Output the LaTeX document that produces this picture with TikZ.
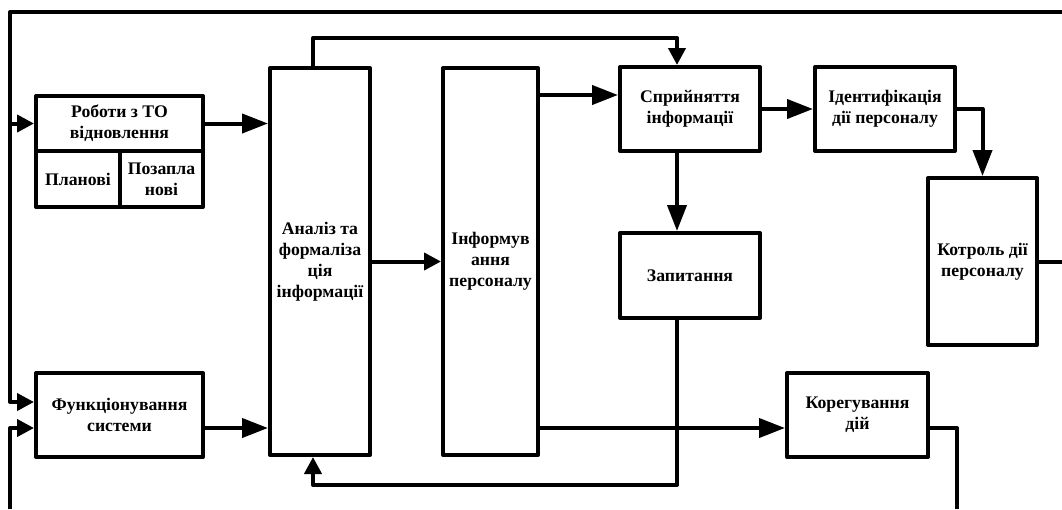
\documentclass[tikz,border=0pt]{standalone}
\usepackage{fontspec}
\setmainfont{Liberation Serif}
\usetikzlibrary{arrows.meta}
\begin{document}
\begin{tikzpicture}[x=1pt,y=-1pt,line width=4pt,line join=round,
  box/.style={draw,rectangle,inner sep=0pt,align=center,
    font=\fontsize{17.7}{21}\selectfont\bfseries},
  arrL/.style={-{Triangle[length=26pt,width=19pt]}},
  arrS/.style={-{Triangle[length=17pt,width=17pt]}}]
\useasboundingbox (0,0) rectangle (1062,509);
% boxes
\node[box,minimum width=167pt,minimum height=55pt] (rob) at (119.5,123.5) {Роботи з ТО\\відновлення};
\node[box,minimum width=84pt,minimum height=56pt] (pl) at (78,179) {Планові};
\node[box,minimum width=83pt,minimum height=56pt] (poz) at (161.5,179) {Позапла\\нові};
\node[box,minimum width=167pt,minimum height=84pt] (fun) at (119.5,415) {Функціонування\\системи};
\node[box,minimum width=100pt,minimum height=387pt] (an) at (320,261.5) {Аналіз та\\формаліза\\ція\\інформації};
\node[box,minimum width=95pt,minimum height=387pt] (inf) at (490.5,261.5) {Інформув\\ання\\персоналу};
\node[box,minimum width=140pt,minimum height=84pt] (sp) at (690,109) {Сприйняття\\інформації};
\node[box,minimum width=140pt,minimum height=85pt] (zap) at (690,275.5) {Запитання};
\node[box,minimum width=140pt,minimum height=84pt] (id) at (885,109) {Ідентифікація\\дії персоналу};
\node[box,minimum width=109pt,minimum height=167pt] (kot) at (982.5,261.5) {Котроль дії\\персоналу};
\node[box,minimum width=141pt,minimum height=84pt] (kor) at (857.5,415) {Корегування\\дій};
% free ends
\coordinate (topR) at (1062,12);
\coordinate (topL) at (10,12);
\coordinate (botL) at (10,509);
\coordinate (kotR) at (1062,261.5);
\coordinate (korEnd) at (957,509);
\coordinate (f1) at ([yshift=13pt]fun.west);
\coordinate (f2) at ([yshift=-13pt]fun.west);
\coordinate (f3) at ([yshift=-13pt]fun.east);
\coordinate (s1) at ([yshift=14pt]sp.west);
\coordinate (k1) at ([yshift=-13pt]kor.west);
\coordinate (k2) at ([yshift=-13pt]kor.east);
% connectors
\draw[arrS] (topR) -- (topL) |- (f1);
\draw[arrS] (topL |- rob.west) -- (rob.west);
\draw[arrS] (botL) |- (f2);
\draw[arrL] (rob.east) -- (rob.east -| an.west);
\draw[arrL] (f3) -- (f3 -| an.west);
\draw[arrS] (an.east) -- (inf.west);
\draw[arrS] ([xshift=-7pt]an.north) -- ++(0,-28) -| ([xshift=-13pt]sp.north);
\draw[arrL] (inf.east |- s1) -- (s1);
\draw[arrL] (sp.east) -- (id.west);
\draw[arrL] (id.east) -| (kot.north);
\draw (kot.east) -- (kotR);
\draw[arrL] ([xshift=-13pt]sp.south) -- ([xshift=-13pt]zap.north);
\draw[arrS] ([xshift=-13pt]zap.south) -- ++(0,165) -| ([xshift=-7pt]an.south);
\draw[arrL] (inf.east |- k1) -- (k1);
\draw (k2) -| (korEnd);
\end{tikzpicture}
\end{document}
